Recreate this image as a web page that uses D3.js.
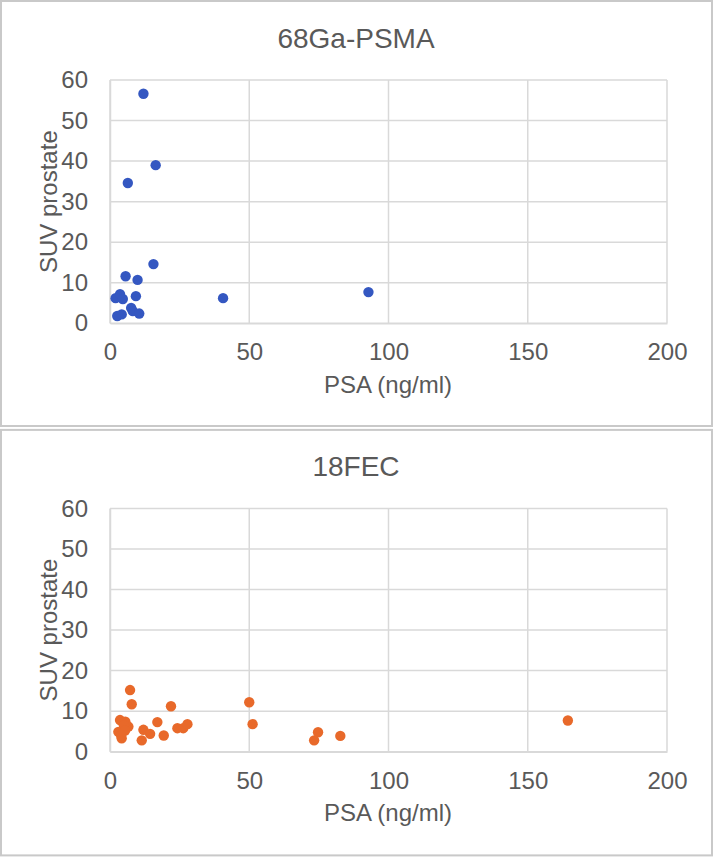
<!DOCTYPE html>
<html><head><meta charset="utf-8">
<script src="https://cdn.jsdelivr.net/npm/d3@7"></script>
<style>
html,body{margin:0;padding:0;background:#fff;}
svg text{font-family:"Liberation Sans",Arial,Helvetica,sans-serif;fill:#595959;}
</style></head>
<body>
<svg id="c" width="714" height="857"></svg>
<script>
// ---- data ----
const titles = ["68Ga-PSMA", "18FEC"];
const xTicks = [0, 50, 100, 150, 200];
const yTicks = [0, 10, 20, 30, 40, 50, 60];
const xTitle = "PSA (ng/ml)";
const yTitle = "SUV prostate";
const psmaPSA = [12.0, 16.4, 6.4, 15.6, 5.6, 9.9, 2.0, 3.6, 4.6, 9.3, 40.6, 92.8, 2.6, 4.2, 7.6, 8.2, 10.5];
const psmaSUV = [56.6, 39.0, 34.6, 14.6, 11.6, 10.7, 6.2, 7.2, 6.0, 6.7, 6.2, 7.7, 1.8, 2.2, 3.8, 3.0, 2.4];
const fecPSA = [7.2, 7.8, 21.9, 50.0, 51.2, 3.6, 5.5, 6.6, 5.0, 3.0, 4.2, 5.4, 4.0, 17.0, 12.0, 14.4, 19.3, 11.4, 24.2, 26.3, 27.8, 74.7, 73.3, 82.7, 164.4];
const fecSUV = [15.2, 11.7, 11.2, 12.2, 6.8, 7.8, 7.4, 6.2, 6.5, 4.9, 3.3, 5.2, 4.0, 7.3, 5.4, 4.4, 4.0, 2.8, 5.8, 5.8, 6.8, 4.8, 2.8, 3.9, 7.7];
const colors = ["#3457c1", "#e8692a"];

const series = [
  psmaPSA.map((x, i) => ({x, y: psmaSUV[i]})),
  fecPSA.map((x, i) => ({x, y: fecSUV[i]}))
];

const svg = d3.select("#c");
const panelH = 428.4;

series.forEach((pts, k) => {
  const oy = k * panelH;
  const g = svg.append("g").attr("transform", `translate(0,${oy})`);
  // panel border
  g.append("rect").attr("x", 1).attr("y", k === 0 ? 1 : 1.5)
    .attr("width", 711).attr("height", k === 0 ? 425 : 425.5)
    .attr("fill", "#fff").attr("stroke", "#c9c9c9").attr("stroke-width", 2);

  const x = d3.scaleLinear().domain([0, 200]).range([110, 667]);
  const y = d3.scaleLinear().domain([0, 60]).range([323.3, 80]);

  // gridlines
  g.append("g").selectAll("line.h").data(yTicks).join("line")
    .attr("x1", x(0)).attr("x2", x(200))
    .attr("y1", d => y(d)).attr("y2", d => y(d))
    .attr("stroke", "#d9d9d9").attr("stroke-width", 1.5);
  g.append("g").selectAll("line.v").data(xTicks).join("line")
    .attr("x1", d => x(d)).attr("x2", d => x(d))
    .attr("y1", y(0)).attr("y2", y(60))
    .attr("stroke", "#d9d9d9").attr("stroke-width", 1.5);

  // axes labels via d3 axes
  const xa = g.append("g").attr("transform", `translate(0,${y(0)})`)
    .call(d3.axisBottom(x).tickValues(xTicks).tickSize(0).tickPadding(20));
  xa.select(".domain").attr("stroke", "#d9d9d9").attr("stroke-width", 1.5);
  xa.selectAll("text").attr("font-size", 24).attr("fill", "#595959")
    .attr("font-family", "Liberation Sans, Arial, sans-serif");

  const ya = g.append("g").attr("transform", `translate(${x(0)},0)`)
    .call(d3.axisLeft(y).tickValues(yTicks).tickSize(0).tickPadding(22));
  ya.select(".domain").attr("stroke", "#d9d9d9").attr("stroke-width", 1.5);
  ya.selectAll("text").attr("font-size", 24).attr("fill", "#595959")
    .attr("font-family", "Liberation Sans, Arial, sans-serif");

  // points
  g.append("g").selectAll("circle").data(pts).join("circle")
    .attr("cx", d => x(d.x)).attr("cy", d => y(d.y)).attr("r", 5.2)
    .attr("fill", colors[k]);

  // title
  g.append("text").attr("x", 356).attr("y", 48).attr("text-anchor", "middle")
    .attr("font-size", 28).text(titles[k]);
  // x title
  g.append("text").attr("x", 388).attr("y", 393).attr("text-anchor", "middle")
    .attr("font-size", 24).text(xTitle);
  // y title
  g.append("text").attr("transform", `translate(57,${(y(0) + y(60)) / 2}) rotate(-90)`)
    .attr("text-anchor", "middle").attr("font-size", 24).text(yTitle);
});
</script>
</body></html>
